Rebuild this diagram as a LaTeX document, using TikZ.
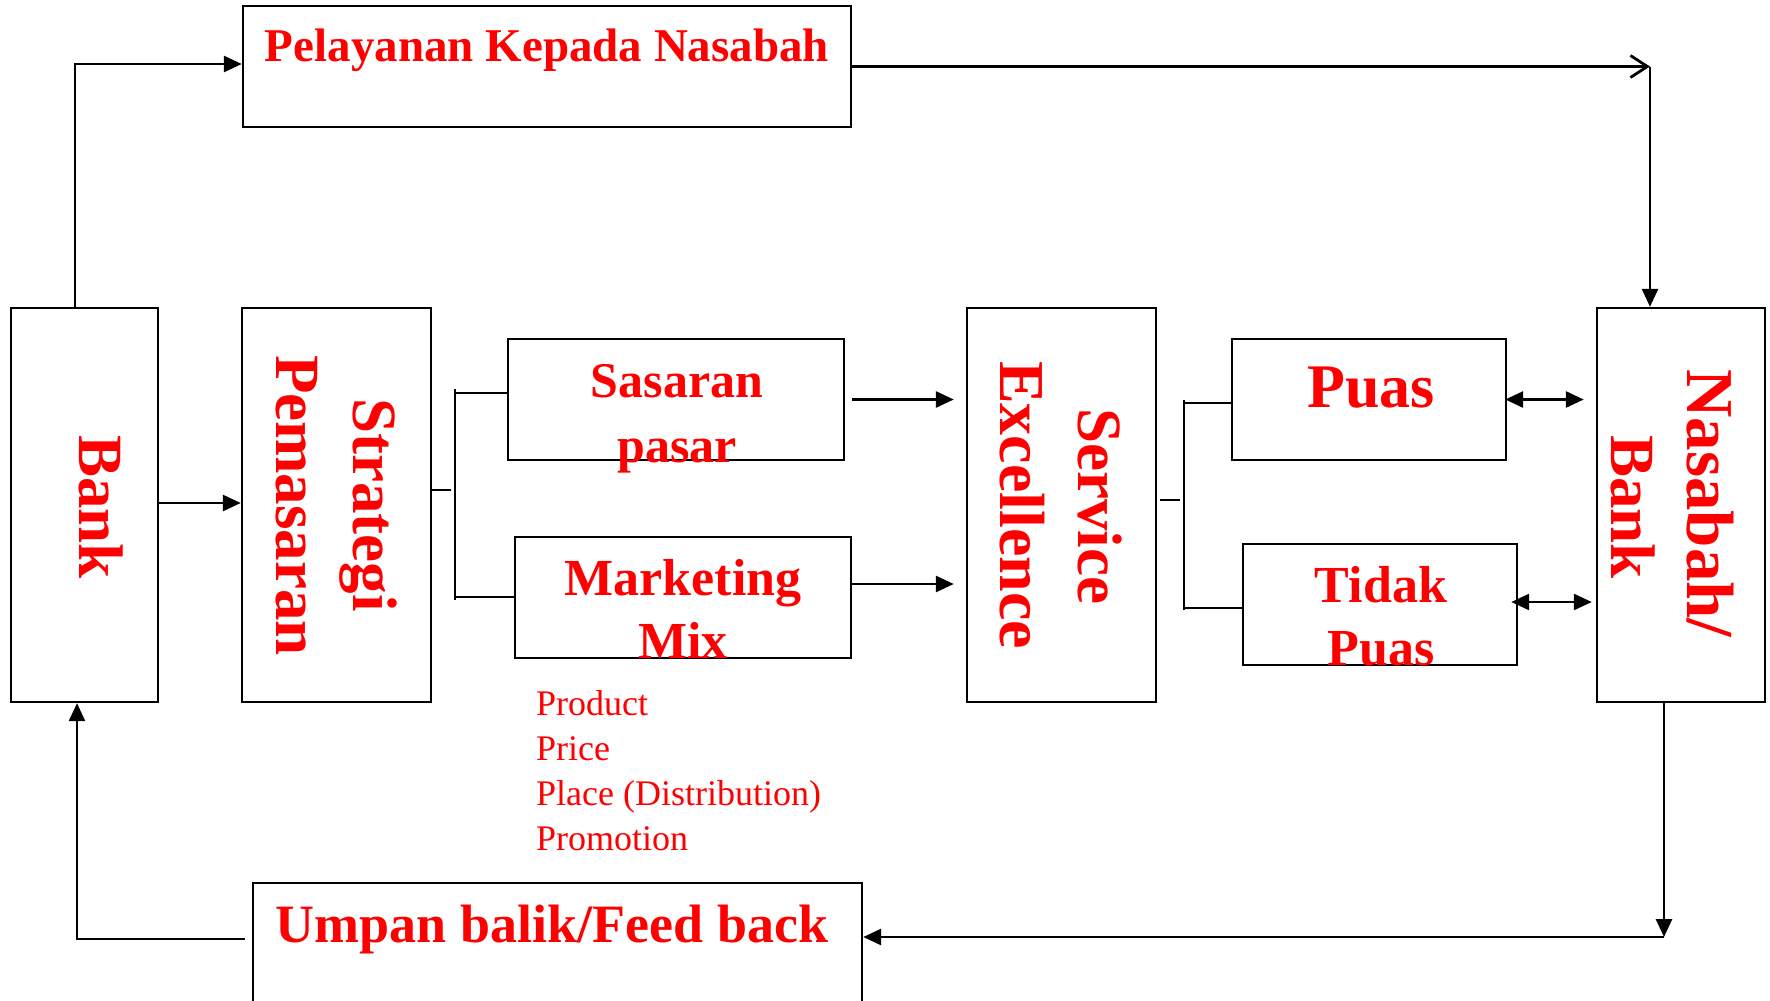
\documentclass[tikz,border=0pt]{standalone}
\usepackage{fontspec}
\setmainfont{Liberation Serif}
\usetikzlibrary{arrows.meta}
\definecolor{tred}{RGB}{255,0,0}
\newcommand\setfs[1]{\fontsize{#1}{#1}\selectfont}
\tikzset{
  box/.style={draw, line width=2.4pt, inner sep=0pt},
  lbl/.style={text=tred, inner sep=0pt, anchor=base},
  big/.style={lbl, font=\setfs{63}\bfseries},
  vlbl/.style={big, rotate=-90},
  item/.style={lbl, anchor=base west, font=\setfs{36}},
  conn/.style={line width=2.8pt},
  tip/.tip={Triangle[length=18pt,width=16pt]},
  arr/.style={conn, -tip},
  darr/.style={conn, tip-tip},
  barb/.style={conn, -{Straight Barb[length=17pt,width=22pt,line width=2.8pt]}},
}
\begin{document}
\begin{tikzpicture}[x=1pt, y=-1pt]
\useasboundingbox (0,0) rectangle (1770,1001);
\clip (0,0) rectangle (1770,1001);

% boxes
\node[box, minimum width=608pt, minimum height=121pt] (pel)  at (547,66.5)   {};
\node[box, minimum width=147pt, minimum height=394pt] (bank) at (84.5,505)   {};
\node[box, minimum width=189pt, minimum height=394pt] (str)  at (336.5,505)  {};
\node[box, minimum width=336pt, minimum height=121pt] (sas)  at (676,399.5)  {};
\node[box, minimum width=336pt, minimum height=121pt] (mkt)  at (683,597.5)  {};
\node[box, minimum width=189pt, minimum height=394pt] (svc)  at (1061.5,505) {};
\node[box, minimum width=274pt, minimum height=121pt] (puas) at (1369,399.5) {};
\node[box, minimum width=274pt, minimum height=121pt] (tdk)  at (1380,604.5) {};
\node[box, minimum width=168pt, minimum height=394pt] (nsb)  at (1681,505)   {};
\node[box, minimum width=609pt, minimum height=140pt] (ump)  at (557.5,953)  {};

% labels
\node[lbl, font=\setfs{47}\bfseries] (pelT) at (547,61) {Pelayanan Kepada Nasabah};
\node[vlbl] (bankT) at (79,507) {Bank};
\node[vlbl] (strT1) at (353,505) {Strategi};
\node[vlbl] (strT2) at (276,505.5) {Pemasaran};
\node[vlbl] (svcT1) at (1078,506) {Service};
\node[vlbl, font=\setfs{64}\bfseries] (svcT2) at (1000,505) {Excellence};
\node[vlbl, font=\setfs{67}\bfseries] (nsbT1) at (1687,503.5) {Nasabah/};
\node[vlbl] (nsbT2) at (1611,507) {Bank};
\node[lbl, font=\setfs{50}\bfseries] (sasT1) at (677,397) {Sasaran};
\node[lbl, font=\setfs{50}\bfseries] (sasT2) at (677,462) {pasar};
\node[lbl, font=\setfs{52}\bfseries] (mktT1) at (683,595) {Marketing};
\node[lbl, font=\setfs{52}\bfseries] (mktT2) at (683,658) {Mix};
\node[lbl, font=\setfs{62}\bfseries] (puasT) at (1371,407) {Puas};
\node[lbl, font=\setfs{52}\bfseries] (tdkT1) at (1381,602) {Tidak};
\node[lbl, font=\setfs{52}\bfseries] (tdkT2) at (1381,665) {Puas};
\node[lbl, font=\setfs{54}\bfseries] (umpT) at (552,942) {Umpan balik/Feed back};
\node[item] (mix1) at (536,715) {Product};
\node[item] (mix2) at (536,760) {Price};
\node[item] (mix3) at (536,805) {Place (Distribution)};
\node[item] (mix4) at (536,850) {Promotion};

% upper loop: bank -> service to customers -> customer
\coordinate (topL) at (75,64);
\draw[arr] (bank.north -| topL) -- (topL) -- (pel.west |- topL);
\coordinate (topR) at (1650,66.5);
\draw[barb] (pel.east) -- (topR);
\draw[arr] (topR) -- (nsb.north -| topR);

% main chain
\draw[arr] (bank.east |- 0,503) -- (str.west |- 0,503);
\draw[conn] (str.east |- 0,490) -- (451,490);
\coordinate (brL1) at (455,389);
\coordinate (brL2) at (455,600);
\draw[conn] (brL1) -- (brL2);
\draw[conn] (455,393) -- (sas.west |- 0,393);
\draw[conn] (455,597) -- (mkt.west |- 0,597);
\draw[arr] ([xshift=7pt]sas.east) -- ([xshift=-12pt]svc.west |- sas.east);
\draw[arr] (mkt.east |- 0,584) -- ([xshift=-12pt]svc.west |- 0,584);

\draw[conn] (1160,500) -- (1180,500);
\coordinate (brR1) at (1184,400);
\coordinate (brR2) at (1184,610);
\draw[conn] (brR1) -- (brR2);
\draw[conn] (1184,403) -- (puas.west |- 0,403);
\draw[conn] (1184,608) -- (tdk.west |- 0,608);
\draw[darr] ([xshift=-2pt]puas.east) -- ([xshift=-12pt]nsb.west |- puas.east);
\draw[darr] ([xshift=-7pt]tdk.east |- 0,602) -- ([xshift=-4pt]nsb.west |- 0,602);

% feedback loop
\coordinate (botR) at (1664,937);
\draw[arr] (nsb.south -| botR) -- (botR);
\draw[arr] (botR) -- (ump.east |- botR);
\draw[arr] ([xshift=-7pt]ump.west |- 0,939) -| (bank.south -| 77,0);
\end{tikzpicture}
\end{document}
